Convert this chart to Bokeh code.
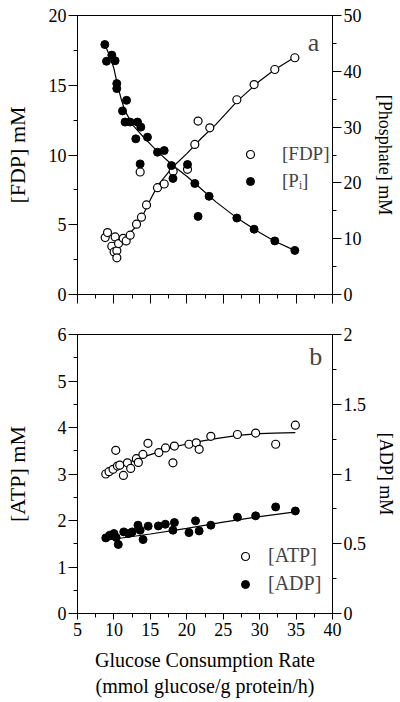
from bokeh.plotting import figure
from bokeh.models import Range1d, LinearAxis, Legend, LegendItem, Label, FixedTicker
from bokeh.layouts import column
from bokeh.embed import file_html
from bokeh.resources import INLINE

# ---------------- data ----------------
# panel a: FDP (left axis, mM)
fdp_x = [8.80, 9.12, 9.71, 10.03, 10.17, 10.40, 10.40, 10.63, 11.27, 11.68, 12.23,
         13.10, 13.78, 14.47, 13.60, 15.98, 16.90, 18.13, 20.10, 21.10, 21.55,
         23.16, 26.87, 29.24, 32.08, 34.83]
fdp_y = [4.08, 4.44, 3.46, 3.05, 4.13, 3.13, 2.63, 3.65, 4.03, 3.84, 4.25,
         5.04, 5.54, 6.42, 8.78, 7.66, 7.92, 8.83, 8.97, 10.76, 12.43,
         11.95, 13.96, 15.05, 16.13, 16.97]
# panel a: Pi (right axis, mM)
pi_x = [8.75, 8.98, 9.71, 10.16, 10.39, 10.39, 11.73, 11.18, 11.53, 12.22, 13.24,
        13.69, 13.00, 14.60, 15.98, 16.90, 13.60, 17.90, 18.10, 20.10, 21.10,
        23.06, 21.55, 26.87, 29.24, 32.08, 34.83]
pi_y = [44.8, 41.8, 42.9, 41.9, 37.8, 36.9, 34.8, 32.9, 30.9, 30.9, 30.9,
        30.0, 27.9, 28.2, 25.5, 25.8, 23.4, 23.1, 20.8, 23.3, 19.9,
        17.6, 14.0, 13.7, 11.7, 9.6, 7.9]
# fitted curves, panel a
fdp_fit_x = [10.3, 11.0, 12.0, 13.0, 14.0, 15.0, 16.0, 18.0, 20.0, 22.0, 24.0, 27.0, 30.0, 32.0, 34.8]
fdp_fit_y = [3.85, 4.00, 4.30, 4.85, 5.70, 6.80, 7.80, 9.10, 10.1, 11.2, 12.2, 13.9, 15.3, 16.1, 17.0]
pi_fit_x = [8.75, 9.5, 10.0, 10.5, 11.0, 11.5, 12.5, 14.0, 16.0, 18.0, 20.0, 22.0, 24.0, 27.0, 30.0, 32.0, 34.8]
pi_fit_y = [44.8, 42.5, 40.5, 37.5, 35.0, 33.0, 30.5, 28.3, 25.6, 23.2, 21.2, 18.9, 16.6, 13.6, 11.1, 9.6, 7.9]

# panel b: ATP (left axis, mM)
atp_x = [8.88, 9.33, 9.88, 10.25, 10.48, 10.80, 11.30, 11.85, 12.30, 13.08, 13.35,
         13.98, 14.67, 16.17, 17.08, 18.30, 18.10, 20.30, 21.30, 21.70, 23.30,
         26.95, 29.45, 32.20, 34.90]
atp_y = [3.00, 3.05, 3.10, 3.51, 3.17, 3.19, 2.97, 3.24, 3.12, 3.33, 3.25,
         3.42, 3.66, 3.46, 3.56, 3.60, 3.24, 3.64, 3.67, 3.53, 3.81,
         3.85, 3.88, 3.64, 4.05]
# panel b: ADP (right axis, mM)
adp_x = [8.88, 9.42, 10.00, 10.30, 10.60, 11.35, 12.00, 12.50, 13.30, 13.60, 14.00,
         14.70, 16.10, 17.05, 18.30, 18.10, 20.30, 21.20, 21.70, 23.30,
         26.95, 29.45, 32.20, 34.90]
adp_y = [0.542, 0.561, 0.573, 0.545, 0.495, 0.585, 0.573, 0.585, 0.633, 0.597, 0.530,
         0.626, 0.628, 0.640, 0.652, 0.597, 0.580, 0.664, 0.592, 0.633,
         0.690, 0.700, 0.764, 0.735]
atp_fit_x = [8.9, 10.5, 12.0, 14.7, 18.2, 21.0, 24.0, 27.0, 30.0, 32.0, 34.9]
atp_fit_y = [2.98, 3.15, 3.25, 3.40, 3.58, 3.68, 3.76, 3.83, 3.87, 3.88, 3.89]
adp_fit_x = [8.9, 15.0, 20.0, 25.0, 30.0, 34.9]
adp_fit_y = [0.525, 0.570, 0.610, 0.655, 0.695, 0.728]

x_ticks = [5, 10, 15, 20, 25, 30, 35, 40]
x_minor = [7.5, 12.5, 17.5, 22.5, 27.5, 32.5, 37.5]

FONT = "Liberation Serif"
TICK_FS = "18px"


def style_axis(ax, label=None, label_fs="18px", standoff=5):
    ax.axis_line_color = "black"
    ax.axis_line_width = 1
    ax.major_tick_line_color = "black"
    ax.minor_tick_line_color = "black"
    ax.major_tick_in = 0
    ax.major_tick_out = 9
    ax.minor_tick_in = 0
    ax.minor_tick_out = 4
    ax.major_label_text_font = FONT
    ax.major_label_text_font_size = TICK_FS
    ax.major_label_text_color = "black"
    ax.major_label_standoff = 2
    if label is not None:
        ax.axis_label = label
        ax.axis_label_text_font = FONT
        ax.axis_label_text_font_size = label_fs
        ax.axis_label_text_font_style = "normal"
        ax.axis_label_text_color = "black"
        ax.axis_label_standoff = standoff


def base_fig(top, bottom):
    p = figure(frame_width=255, frame_height=279, output_backend="svg", toolbar_location=None,
               x_range=Range1d(5, 40), min_border_left=77, min_border_right=60,
               min_border_top=top, min_border_bottom=bottom)
    p.grid.visible = False
    p.outline_line_color = "black"
    p.outline_line_width = 1
    p.background_fill_color = "white"
    p.border_fill_color = "white"
    return p


# ---------------- panel a ----------------
p1 = base_fig(15, 31)
p1.y_range = Range1d(0, 20)
p1.extra_y_ranges = {"pi": Range1d(0, 50)}
p1.xaxis.ticker = FixedTicker(ticks=x_ticks, minor_ticks=x_minor)
p1.yaxis.ticker = FixedTicker(ticks=[0, 5, 10, 15, 20], minor_ticks=[2.5, 7.5, 12.5, 17.5])
ra1 = LinearAxis(y_range_name="pi",
                 ticker=FixedTicker(ticks=[0, 10, 20, 30, 40, 50], minor_ticks=[5, 15, 25, 35, 45]))
p1.add_layout(ra1, "right")
style_axis(p1.xaxis[0])
style_axis(p1.yaxis[0], "[FDP] mM", "22px", 16)
style_axis(ra1, "[Phosphate] mM", "18px", 10)
p1.xaxis.major_label_overrides = {t: "" for t in x_ticks}
p1.xaxis.major_label_standoff = 0

p1.line(fdp_fit_x, fdp_fit_y, line_color="black", line_width=1.2)
p1.line(pi_fit_x, pi_fit_y, y_range_name="pi", line_color="black", line_width=1.2)
r_fdp = p1.scatter(fdp_x, fdp_y, size=8, fill_color="white", line_color="black", line_width=1.2)
r_pi = p1.scatter(pi_x, pi_y, y_range_name="pi", size=8, fill_color="black", line_color="black")

leg1 = Legend(items=[LegendItem(label="[FDP]", renderers=[r_fdp]),
                     LegendItem(label="[Pᵢ]", renderers=[r_pi])],
              location=(163, 102), padding=0, margin=0, spacing=5,
              glyph_width=20, glyph_height=20, label_height=20, label_standoff=22,
              border_line_color=None, background_fill_alpha=0,
              label_text_font=FONT, label_text_font_size="19px")
p1.add_layout(leg1, "center")
p1.add_layout(Label(x=37.4, y=18.08, text="a", text_font=FONT, text_font_size="26px",
                    text_align="center", text_baseline="alphabetic"))

# ---------------- panel b ----------------
p2 = base_fig(9, 82)
p2.y_range = Range1d(0, 6)
p2.extra_y_ranges = {"adp": Range1d(0, 2)}
p2.xaxis.ticker = FixedTicker(ticks=x_ticks, minor_ticks=x_minor)
p2.yaxis.ticker = FixedTicker(ticks=[0, 1, 2, 3, 4, 5, 6],
                              minor_ticks=[0.5, 1.5, 2.5, 3.5, 4.5, 5.5])
ra2 = LinearAxis(y_range_name="adp",
                 ticker=FixedTicker(ticks=[0, 0.5, 1, 1.5, 2], minor_ticks=[0.25, 0.75, 1.25, 1.75]))
p2.add_layout(ra2, "right")
style_axis(p2.xaxis[0], "Glucose Consumption Rate\n(mmol glucose/g protein/h)", "20px", 10)
style_axis(p2.yaxis[0], "[ATP] mM", "22px", 25)
style_axis(ra2, "[ADP] mM", "18px", 7)
p2.xaxis.major_tick_out = 6
p2.xaxis.major_label_standoff = 3

p2.line(atp_fit_x, atp_fit_y, line_color="black", line_width=1.2)
p2.line(adp_fit_x, adp_fit_y, y_range_name="adp", line_color="black", line_width=1.2)
r_atp = p2.scatter(atp_x, atp_y, size=8, fill_color="white", line_color="black", line_width=1.2)
r_adp = p2.scatter(adp_x, adp_y, y_range_name="adp", size=8, fill_color="black", line_color="black")

leg2 = Legend(items=[LegendItem(label="[ATP]", renderers=[r_atp]),
                     LegendItem(label="[ADP]", renderers=[r_adp])],
              location=(158, 18), padding=0, margin=0, spacing=5,
              glyph_width=20, glyph_height=20, label_height=20, label_standoff=13,
              border_line_color=None, background_fill_alpha=0,
              label_text_font=FONT, label_text_font_size="20px")
p2.add_layout(leg2, "center")
p2.add_layout(Label(x=37.7, y=5.52, text="b", text_font=FONT, text_font_size="26px",
                    text_align="center", text_baseline="alphabetic"))

layout = column(p1, p2, spacing=0)
open("out.html", "w").write(file_html(layout, INLINE))
